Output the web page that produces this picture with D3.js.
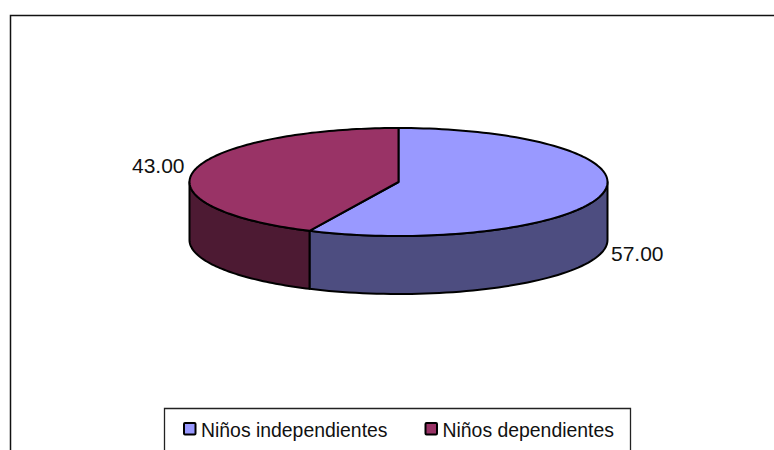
<!DOCTYPE html>
<html>
<head>
<meta charset="utf-8">
<script src="https://cdn.jsdelivr.net/npm/d3@7/dist/d3.min.js"></script>
<style>
  html, body { margin: 0; padding: 0; background: #fff; overflow: hidden; }
  svg { display: block; }
  text { font-family: "Liberation Sans", Arial, sans-serif; fill: #111; }
</style>
</head>
<body>
<div id="chart"></div>
<script>
// tarta 3D: elipse aplastada + pared lateral, ángulos sacados de d3.pie
const categories = ["Niños independientes", "Niños dependientes"];
const values = [57, 43];
const valueLabels = ["57.00", "43.00"];
const topColors = ["#9999ff", "#993366"];
const sideColors = ["#4d4d80", "#4d1a33"];

const width = 774, height = 450;
const cx = 398.5, cy = 182, rx = 209, ry = 54, depth = 58;

const svg = d3.select("#chart").append("svg")
  .attr("width", width).attr("height", height);

// marco recortado: sin borde derecho ni inferior
svg.append("path")
  .attr("d", `M10.5,${height}V15.5H${width}`)
  .attr("fill", "none").attr("stroke", "#111").attr("stroke-width", 1.5);

const slices = d3.pie().sort(null)(values);

// ángulo de d3 (0 arriba, horario) -> punto en la elipse
const px = a => cx + rx * Math.sin(a);
const py = a => cy - ry * Math.cos(a);

const sidePath = (a0, a1) => {
  const pts = d3.range(0, 61).map(i => a0 + (a1 - a0) * i / 60);
  const top = pts.map(a => [px(a), py(a)]);
  const bot = pts.slice().reverse().map(a => [px(a), py(a) + depth]);
  return d3.line()(top.concat(bot)) + "Z";
};

// solo la mitad frontal de cada porción es visible
const sideG = svg.append("g");
slices.forEach((s, i) => {
  const a0 = Math.max(s.startAngle, Math.PI / 2);
  const a1 = Math.min(s.endAngle, Math.PI * 1.5);
  if (a1 > a0) {
    sideG.append("path").attr("d", sidePath(a0, a1))
      .attr("fill", sideColors[i]).attr("stroke", "#000")
      .attr("stroke-width", 2).attr("stroke-linejoin", "round");
  }
});

const topG = svg.append("g");
slices.forEach((s, i) => {
  const pts = d3.range(0, 121).map(k => {
    const a = s.startAngle + (s.endAngle - s.startAngle) * k / 120;
    return [px(a), py(a)];
  });
  topG.append("path").attr("d", d3.line()([[cx, cy]].concat(pts)) + "Z")
    .attr("fill", topColors[i]).attr("stroke", "#000")
    .attr("stroke-width", 2).attr("stroke-linejoin", "round");
});

// etiquetas de valor
svg.append("text").attr("x", 611).attr("y", 261).attr("font-size", 21).text(valueLabels[0]);
svg.append("text").attr("x", 132).attr("y", 173).attr("font-size", 21).text(valueLabels[1]);

// leyenda
const legend = svg.append("g");
legend.append("path").attr("d", `M164.5,${height}V408.5H630.5V${height}`)
  .attr("fill", "#fff").attr("stroke", "#222").attr("stroke-width", 1.3);
const legendX = d3.scaleOrdinal().domain(categories).range([184, 425.5]);
categories.forEach((c, i) => {
  const x = legendX(c);
  legend.append("rect").attr("x", x).attr("y", 423).attr("width", 11.5).attr("height", 11.5)
    .attr("fill", topColors[i]).attr("stroke", "#000").attr("stroke-width", 2).attr("rx", 1);
  legend.append("text").attr("x", x + 17).attr("y", 436.5).attr("font-size", 19.4).text(c);
});
</script>
</body>
</html>
